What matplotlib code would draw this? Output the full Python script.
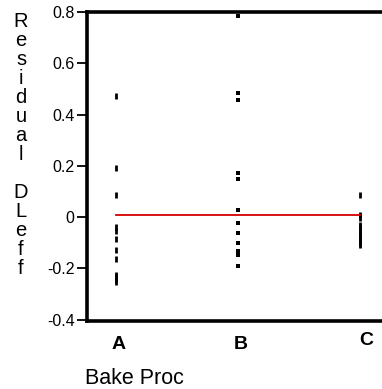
import matplotlib.pyplot as plt
from matplotlib.transforms import ScaledTranslation

W, H = 382, 389
RED = "#d40000"

groups = ["A", "B", "C"]
resid_a = [0.474, 0.193, 0.086, -0.040, -0.053, -0.085, -0.130, -0.162,
           -0.224, -0.234, -0.244, -0.253]
resid_b = [0.784, 0.483, 0.457, 0.171, 0.148, 0.026, -0.022, -0.061, -0.099,
           -0.133, -0.141, -0.148, -0.189]
resid_c = [0.086, 0.010, -0.002, -0.030, -0.040, -0.050, -0.060, -0.070,
           -0.080, -0.090, -0.100, -0.110]
group_means = [0.008, 0.008, 0.008]
yticks = [-0.4, -0.2, 0, 0.2, 0.4, 0.6, 0.8]
ytick_labels = ["-0.4", "-0.2", "0", "0.2", "0.4", "0.6", "0.8"]

plt.rcParams["font.family"] = ["Liberation Sans", "DejaVu Sans"]

fig = plt.figure(figsize=(W / 100, H / 100), dpi=100)
fig.patch.set_facecolor("white")
ax = fig.add_axes([87 / W, 1 - 321 / H, 1 - 87 / W, (321 - 12) / H])

# points: A and C look like thin vertical dashes, B like small squares
ax.plot([0] * len(resid_a), resid_a, ls="none", marker="|", ms=4, mew=2, color="black")
ax.plot([1] * len(resid_b), resid_b, ls="none", marker="s", ms=3, mew=0, color="black")
ax.plot([2] * len(resid_c), resid_c, ls="none", marker="|", ms=4, mew=2, color="black")

# means line
ax.plot([0, 1, 2], group_means, color=RED, lw=1.3)

ax.set_xlim(-0.24, 2.18)
ax.set_ylim(-0.405, 0.8)

for side in ["left", "top", "bottom"]:
    ax.spines[side].set_linewidth(2.6)
ax.spines["right"].set_visible(False)

ax.set_yticks(yticks)
ax.set_yticklabels(ytick_labels)
ax.tick_params(axis="y", direction="out", length=7, width=1.3, pad=2, labelsize=11.5)

ax.set_xticks([0, 1, 2])
ax.set_xticklabels(groups, fontweight="bold", fontsize=14)
ax.tick_params(axis="x", length=0, pad=11)
labs = ax.get_xticklabels()
labs[0].set_transform(labs[0].get_transform() + ScaledTranslation(2 / 100, 0, fig.dpi_scale_trans))
labs[1].set_transform(labs[1].get_transform() + ScaledTranslation(3 / 100, 0, fig.dpi_scale_trans))
labs[2].set_transform(labs[2].get_transform() + ScaledTranslation(6 / 100, 4 / 100, fig.dpi_scale_trans))

fig.text(85 / W, 1 - 378 / H, "Bake Proc", fontsize=15.5, ha="left", va="center")

ylabel = "Residual DLeff"
fig.text(21 / W, 1 - 12 / H, "\n".join(ylabel), fontsize=14.5, ha="center", va="top",
         linespacing=1.0, family=["Liberation Sans Narrow", "Liberation Sans", "DejaVu Sans"])

fig.savefig("out.png", dpi=100, facecolor="white")
